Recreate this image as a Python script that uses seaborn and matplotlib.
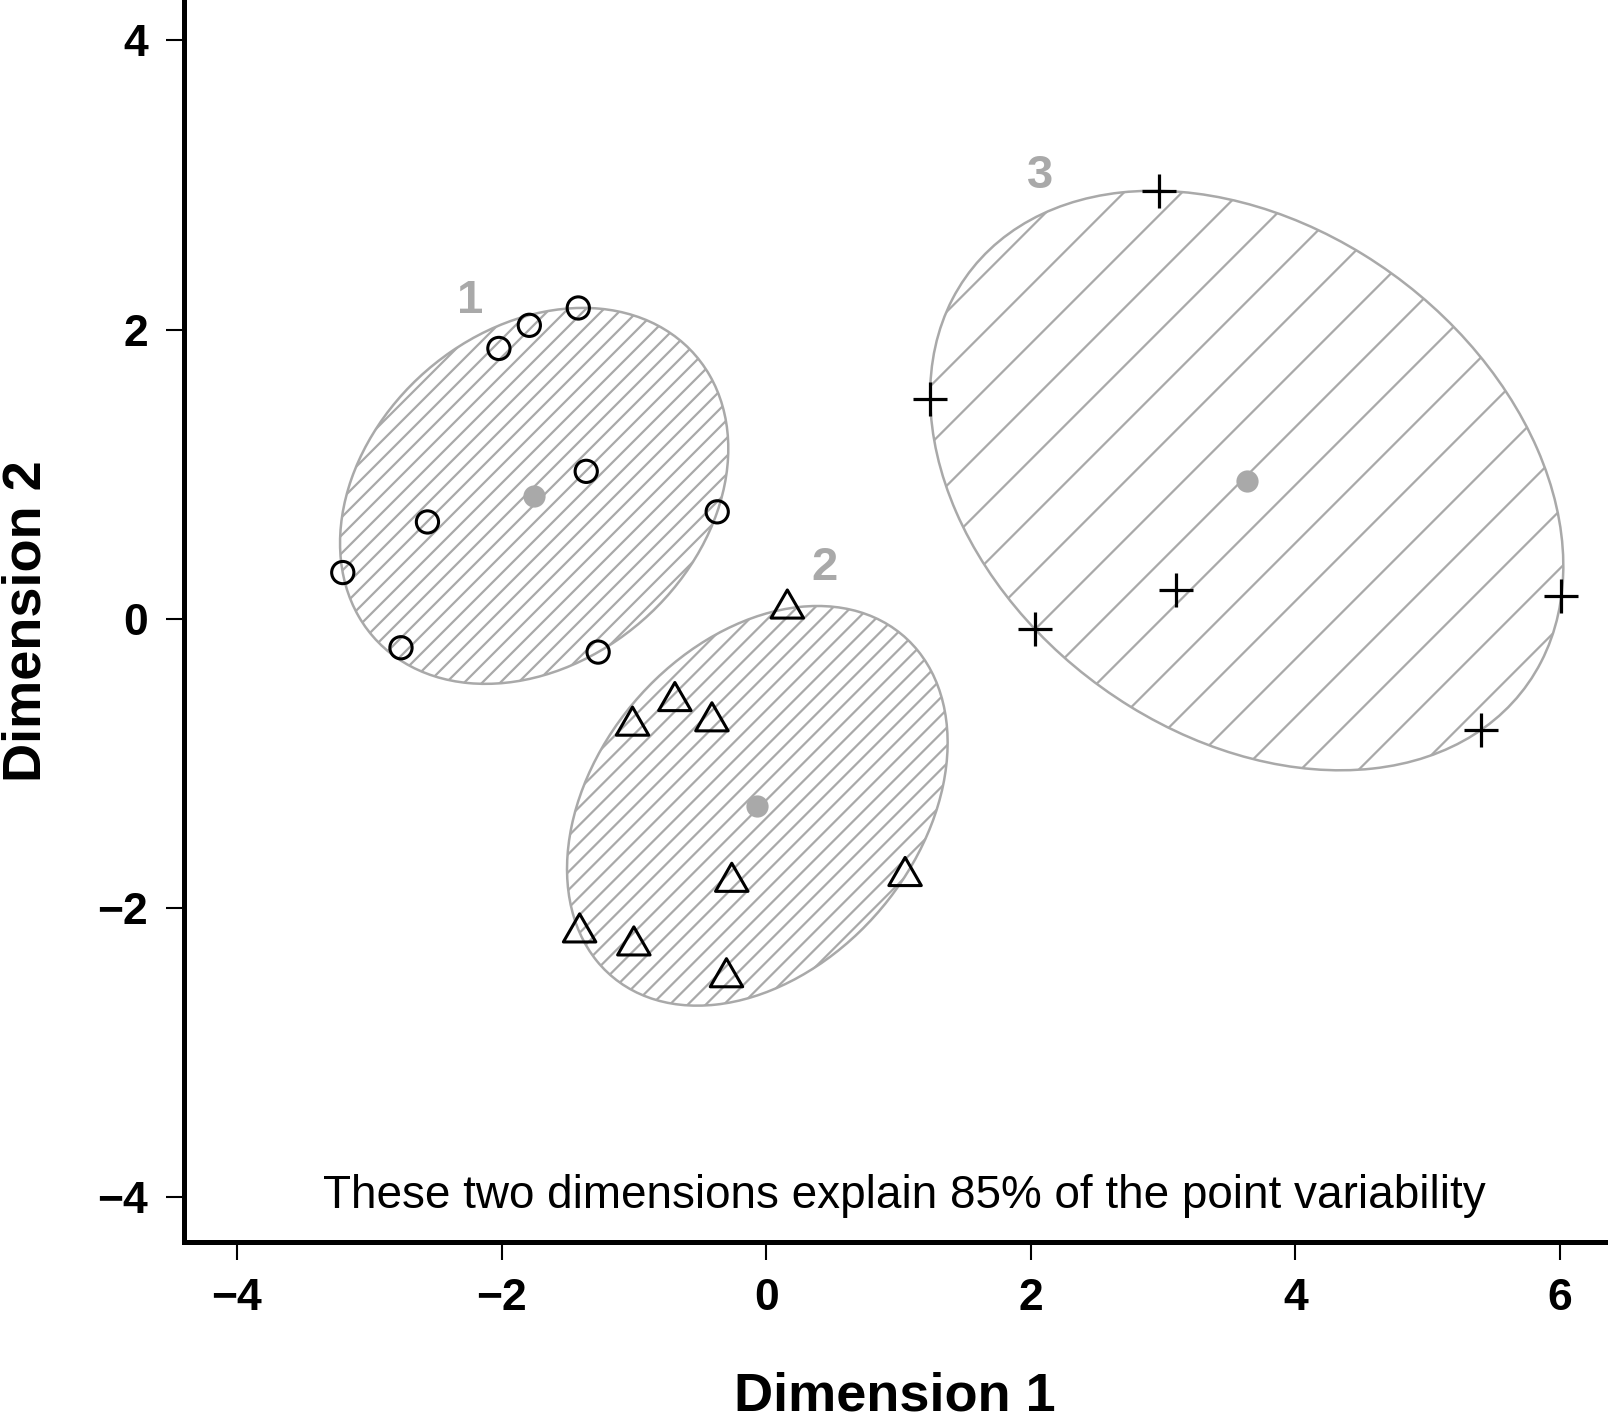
import numpy as np
import matplotlib
matplotlib.use('Agg')
import matplotlib.pyplot as plt
from matplotlib.patches import Ellipse
from matplotlib.path import Path
from matplotlib.collections import LineCollection
import seaborn as sns

# cluster members
c1_x = [-3.20, -2.76, -2.56, -2.02, -1.79, -1.42, -1.36, -0.37, -1.27]
c1_y = [0.32, -0.20, 0.67, 1.87, 2.03, 2.15, 1.02, 0.74, -0.23]
c2_x = [0.16, -0.69, -1.01, -0.41, -0.26, 1.05, -1.41, -1.00, -0.30]
c2_y = [0.07, -0.57, -0.74, -0.71, -1.82, -1.78, -2.17, -2.26, -2.48]
c3_x = [2.97, 1.24, 2.03, 3.10, 6.01, 5.40]
c3_y = [2.96, 1.52, -0.07, 0.20, 0.16, -0.77]
cluster_names = ['1', '2', '3']
# where the cluster numbers sit
label_xy = [(-2.24, 2.20), (0.44, 0.35), (2.07, 3.06)]
x_ticks = [-4, -2, 0, 2, 4, 6]
y_ticks = [-4, -2, 0, 2, 4]
subtitle = 'These two dimensions explain 85% of the point variability'

GRAY = '#a9a9a9'
xlim = (-4.40, 6.34)
ylim = (-4.31, 4.28)
hatch_gap = [18, 18, 58]   # horizontal px between hatch lines


def ellipsoid_hull(P, tol=1e-7, max_iter=5000):
    # minimum volume enclosing ellipse (Khachiyan)
    N, d = P.shape
    Q = np.column_stack([P, np.ones(N)]).T
    u = np.ones(N) / N
    for _ in range(max_iter):
        X = (Q * u) @ Q.T
        M = np.einsum('ij,ji->i', Q.T @ np.linalg.inv(X), Q)
        j = np.argmax(M)
        step = (M[j] - d - 1) / ((d + 1) * (M[j] - 1))
        new_u = (1 - step) * u
        new_u[j] += step
        err = np.linalg.norm(new_u - u)
        u = new_u
        if err < tol:
            break
    c = P.T @ u
    A = np.linalg.inv((P.T * u) @ P - np.outer(c, c)) / d
    # make sure every point is inside
    r = np.einsum('ij,jk,ik->i', P - c, A, P - c)
    A = A / r.max()
    return c, A


sns.set_style('ticks')
plt.rcParams['font.family'] = ['Liberation Sans', 'DejaVu Sans']
plt.rcParams['text.color'] = 'black'
plt.rcParams['axes.labelcolor'] = 'black'

W, H = 1610, 1421
fig = plt.figure(figsize=(W / 100, H / 100), dpi=100)
ax_l, ax_b, ax_w, ax_h = 184, 179, 1421, 1242
ax = fig.add_axes([ax_l / W, ax_b / H, ax_w / W, ax_h / H])
ax.set_xlim(*xlim)
ax.set_ylim(*ylim)

sx = ax_w / (xlim[1] - xlim[0])
sy = ax_h / (ylim[1] - ylim[0])
slope = sx / sy

clusters = [(c1_x, c1_y), (c2_x, c2_y), (c3_x, c3_y)]
centers = []
for k, (cx, cy) in enumerate(clusters):
    P = np.column_stack([cx, cy])
    c, A = ellipsoid_hull(P)
    centers.append(c)
    w, V = np.linalg.eigh(A)
    axes_len = 1 / np.sqrt(w)
    ang = np.degrees(np.arctan2(V[1, 0], V[0, 0]))
    ell = Ellipse(c, 2 * axes_len[0], 2 * axes_len[1], angle=ang,
                  facecolor='none', edgecolor=GRAY, lw=1.8, zorder=2)
    ax.add_patch(ell)

    # hatch lines at 45 degrees on screen, clipped to the ellipse
    t = np.linspace(0, 2 * np.pi, 400)
    pts = c[:, None] + V @ (axes_len[:, None] * np.vstack([np.cos(t), np.sin(t)]))
    bx = pts[1] - slope * pts[0]
    step = hatch_gap[k] / sy
    x0, x1 = pts[0].min() - 0.1, pts[0].max() + 0.1
    segs = [[(x0, slope * x0 + b), (x1, slope * x1 + b)]
            for b in np.arange(bx.min() + step / 2, bx.max(), step)]
    lc = LineCollection(segs, colors=GRAY, linewidths=1.6, zorder=1)
    ax.add_collection(lc)
    lc.set_clip_path(ell)

ax.set_xlim(*xlim)
ax.set_ylim(*ylim)

# cluster members
sns.scatterplot(x=c1_x, y=c1_y, marker='o', s=16 ** 2, facecolor='none',
                edgecolor='black', linewidth=2.2, ax=ax, zorder=5)
tri = Path([(0, 1), (-0.866, -0.5), (0.866, -0.5), (0, 1)], closed=True)
sns.scatterplot(x=c2_x, y=c2_y, marker=tri, s=27 ** 2, facecolor='none',
                edgecolor='black', linewidth=2.2, ax=ax, zorder=5)
sns.scatterplot(x=c3_x, y=c3_y, marker='+', s=25 ** 2, color='black',
                linewidth=2.3, ax=ax, zorder=5)

# ellipse centres
centers = np.array(centers)
sns.scatterplot(x=centers[:, 0], y=centers[:, 1], color=GRAY, s=16 ** 2,
                linewidth=0, ax=ax, zorder=4)

for name, (lx, ly) in zip(cluster_names, label_xy):
    ax.text(lx, ly, name, color=GRAY, fontsize=34, fontweight='bold',
            ha='center', va='center')

ax.text(0.507, 0.027, subtitle, transform=ax.transAxes, ha='center',
        va='baseline', fontsize=33, color='black')

ax.set_xticks(x_ticks)
ax.set_yticks(y_ticks)
ax.tick_params(direction='out', length=13, width=1.5, labelsize=32, pad=13,
               color='black', labelcolor='black')
for lbl in ax.get_xticklabels() + ax.get_yticklabels():
    lbl.set_fontweight('bold')

ax.set_xlabel('Dimension 1', fontsize=39, fontweight='bold', labelpad=38)
ax.set_ylabel('Dimension 2', fontsize=39, fontweight='bold', labelpad=33)

sns.despine(ax=ax)
for side in ['left', 'bottom']:
    ax.spines[side].set_linewidth(3.6)
    ax.spines[side].set_color('black')

fig.savefig('out.png', dpi=100)
